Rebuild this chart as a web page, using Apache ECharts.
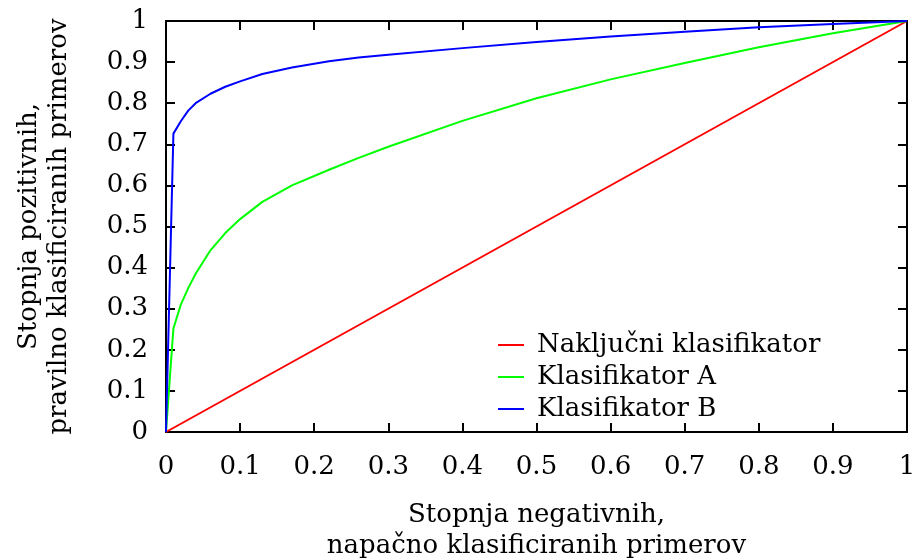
<!DOCTYPE html>
<html>
<head>
<meta charset="utf-8">
<script src="https://cdn.jsdelivr.net/npm/echarts@6/dist/echarts.min.js"></script>
<style>
  html, body { margin: 0; padding: 0; background: #fff; }
  #roc { width: 914px; height: 560px; }
</style>
</head>
<body>
<div id="roc"></div>
<script>
// podatki, odčitani s slike
const seriesNames = ['Naključni klasifikator', 'Klasifikator A', 'Klasifikator B'];
const randomX = [0, 1];
const randomY = [0, 1];
const curveX = [0, 0.01, 0.02, 0.03, 0.04, 0.06, 0.08, 0.1, 0.13, 0.17, 0.22, 0.26, 0.3, 0.4, 0.5, 0.6, 0.7, 0.8, 0.9, 1];
const classA = [0, 0.252, 0.31, 0.35, 0.385, 0.442, 0.484, 0.518, 0.56, 0.6, 0.638, 0.667, 0.694, 0.757, 0.812, 0.858, 0.898, 0.936, 0.97, 1];
const classB = [0, 0.726, 0.756, 0.782, 0.8, 0.823, 0.84, 0.853, 0.871, 0.887, 0.902, 0.911, 0.918, 0.934, 0.949, 0.962, 0.974, 0.985, 0.993, 1];
const colors = ['#ff0000', '#00ff00', '#0000ff'];

const font = 'DejaVu Serif';
const pairs = (xs, ys) => xs.map((x, i) => [x, ys[i]]);

const axisLine = { show: true, onZero: false, lineStyle: { color: '#000', width: 2 } };
const axisTick = { show: true, inside: true, length: 9, lineStyle: { color: '#000', width: 2 } };
const labelStyle = { color: '#000', fontFamily: font, fontSize: 26 };

const chart = echarts.init(document.getElementById('roc'));

const line = (idx, data) => ({
  name: seriesNames[idx],
  type: 'line',
  data: data,
  showSymbol: false,
  symbol: 'none',
  smooth: false,
  xAxisIndex: 0,
  yAxisIndex: 0,
  lineStyle: { color: colors[idx], width: 2 },
  itemStyle: { color: colors[idx] },
});

chart.setOption({
  animation: false,
  grid: { left: 166, right: 7, top: 21, bottom: 128, outerBoundsMode: 'none' },
  legend: {
    orient: 'vertical',
    left: 493,
    top: 324,
    icon: 'rect',
    itemWidth: 26,
    itemHeight: 2,
    itemGap: 0,
    data: seriesNames,
    textStyle: { color: '#000', fontFamily: font, fontSize: 26, lineHeight: 32, padding: [0, 0, 0, 8] },
  },
  xAxis: [
    {
      type: 'value', min: 0, max: 1, interval: 0.1, position: 'bottom',
      axisLine, axisTick, splitLine: { show: false },
      axisLabel: Object.assign({ margin: 22 }, labelStyle),
      name: 'Stopnja negativnih,\nnapačno klasificiranih primerov',
      nameLocation: 'middle',
      nameGap: 68,
      nameTextStyle: { color: '#000', fontFamily: font, fontSize: 26, lineHeight: 31 },
    },
    {
      type: 'value', min: 0, max: 1, interval: 0.1, position: 'top',
      axisLine, axisTick, splitLine: { show: false }, axisLabel: { show: false },
    },
  ],
  yAxis: [
    {
      type: 'value', min: 0, max: 1, interval: 0.1, position: 'left',
      axisLine, axisTick, splitLine: { show: false },
      axisLabel: Object.assign({ margin: 18 }, labelStyle),
      name: 'Stopnja pozitivnih,\npravilno klasificiranih primerov',
      nameLocation: 'middle',
      nameRotate: 90,
      nameGap: 92,
      nameTextStyle: { color: '#000', fontFamily: font, fontSize: 26, lineHeight: 30 },
    },
    {
      type: 'value', min: 0, max: 1, interval: 0.1, position: 'right',
      axisLine, axisTick, splitLine: { show: false }, axisLabel: { show: false },
    },
  ],
  series: [
    line(0, pairs(randomX, randomY)),
    line(1, pairs(curveX, classA)),
    line(2, pairs(curveX, classB)),
  ],
});
</script>
</body>
</html>
